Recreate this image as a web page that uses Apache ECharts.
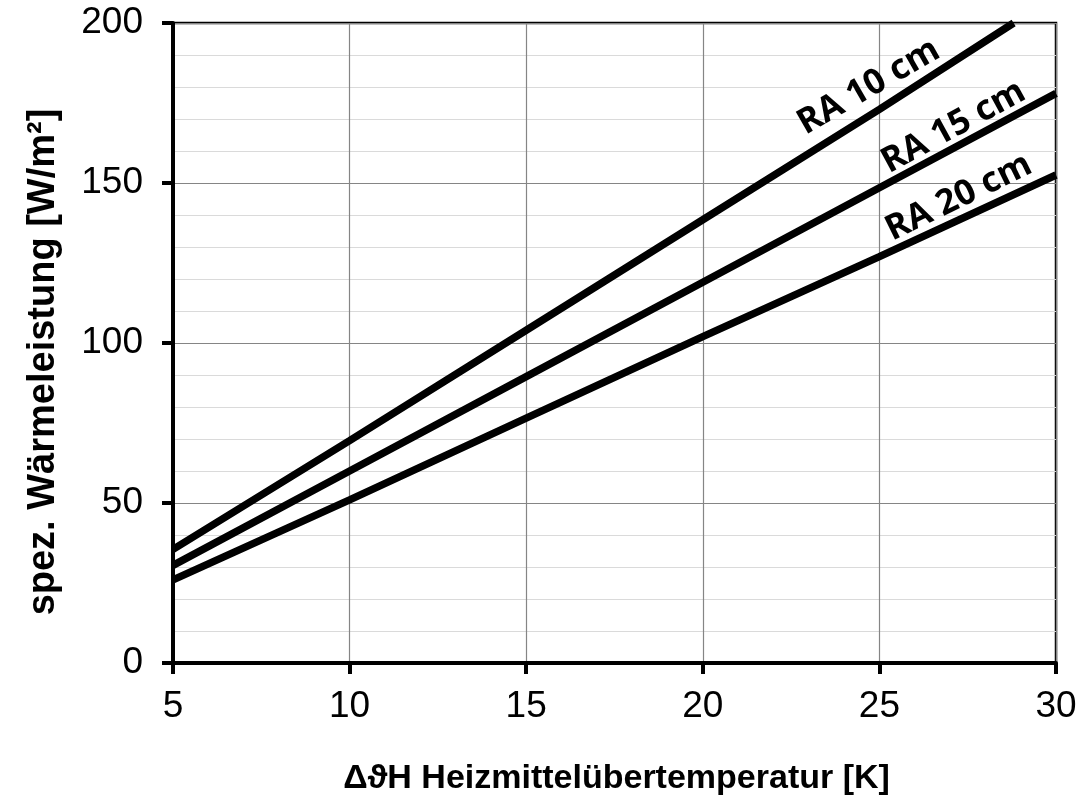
<!DOCTYPE html>
<html>
<head>
<meta charset="utf-8">
<script src="https://cdn.jsdelivr.net/npm/echarts@6/dist/echarts.min.js"></script>
<style>
  html, body { margin: 0; padding: 0; background: #fff; }
  #chart { width: 1092px; height: 803px; }
</style>
</head>
<body>
<div id="chart"></div>
<script>
// values: [ΔϑH in K, W/m²]
var ra10 = [[5, 35.5], [10, 69.5], [15, 104], [20, 138.5], [25, 173], [28.8, 200]]
var ra15 = [[5, 30.5], [10, 60], [15, 89.5], [20, 119], [25, 148.5], [30, 178]]
var ra20 = [[5, 26], [10, 51], [15, 76.5], [20, 102], [25, 127], [30, 152.5]]
var seriesNames = ['RA 10 cm', 'RA 15 cm', 'RA 20 cm']
// where each label sits (data coords) and its tilt
var labelPos = [[24.7, 180], [27.1, 167.5], [27.25, 145.5]]
var labelAngle = [30, 28.5, 26]

var chart = echarts.init(document.getElementById('chart'))

function makeSeries (name, data, i) {
  return {
    name: name,
    type: 'line',
    data: data,
    symbol: 'none',
    lineStyle: { color: '#000', width: 7.5 },
    z: 3,
    markPoint: {
      symbol: 'circle',
      symbolSize: 0,
      silent: true,
      label: {
        show: true,
        position: 'inside',
        formatter: '{b}',
        rotate: labelAngle[i],
        color: '#000',
        fontFamily: 'Open Sans',
        fontWeight: 'bold',
        fontSize: 35
      },
      data: [{ name: name, coord: labelPos[i] }]
    }
  }
}

var option = {
  animation: false,
  grid: {
    left: 173,
    right: 36,
    top: 23,
    bottom: 140,
    show: true,
    borderColor: '#000',
    borderWidth: 2.5
  },
  xAxis: {
    type: 'value',
    min: 5,
    max: 30,
    interval: 5,
    name: 'ΔϑH Heizmittelübertemperatur [K]',
    nameLocation: 'middle',
    nameGap: 99,
    nameTextStyle: { color: '#000', fontFamily: 'Liberation Sans', fontWeight: 'bold', fontSize: 34, padding: [0, 0, 0, 4] },
    axisLine: { lineStyle: { color: '#000', width: 4 } },
    axisTick: { show: true, length: 11, lineStyle: { color: '#000', width: 4 } },
    axisLabel: { color: '#000', fontFamily: 'Liberation Sans', fontSize: 37, margin: 25 },
    splitLine: { show: true, lineStyle: { color: '#858585', width: 1.2 } }
  },
  yAxis: {
    type: 'value',
    min: 0,
    max: 200,
    interval: 50,
    name: 'spez. Wärmeleistung [W/m²]',
    nameLocation: 'middle',
    nameGap: 110,
    // the original title sits a bit below the middle of the axis
    nameTextStyle: { color: '#000', fontFamily: 'Liberation Sans', fontWeight: 'bold', fontSize: 38, padding: [0, 38, 0, 0] },
    axisLine: { show: true, lineStyle: { color: '#000', width: 4 } },
    axisTick: { show: true, length: 11, lineStyle: { color: '#000', width: 4 } },
    axisLabel: { color: '#000', fontFamily: 'Liberation Sans', fontSize: 37, margin: 30 },
    splitLine: { show: true, lineStyle: { color: '#858585', width: 1.2 } },
    minorTick: { show: false, splitNumber: 5 },
    minorSplitLine: { show: true, lineStyle: { color: '#dadada', width: 1.2 } }
  },
  series: [
    makeSeries(seriesNames[0], ra10, 0),
    makeSeries(seriesNames[1], ra15, 1),
    makeSeries(seriesNames[2], ra20, 2)
  ]
}

chart.setOption(option)
window.onresize = function () {
  chart.resize()
}
</script>
</body>
</html>
